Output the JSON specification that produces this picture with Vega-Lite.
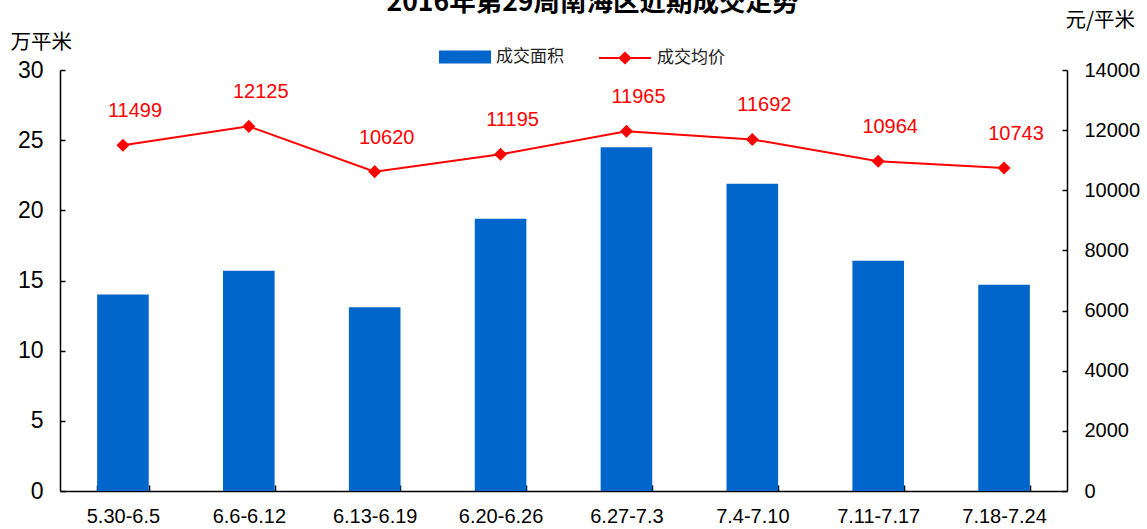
{
  "$schema": "https://vega.github.io/schema/vega-lite/v6.json",
  "width": 1007,
  "height": 421,
  "autosize": {"type": "none"},
  "padding": {"left": 60, "top": 70, "right": 80, "bottom": 38},
  "background": "white",
  "title": {
    "text": "2016年第29周南海区近期成交走势",
    "font": "Noto Sans CJK SC",
    "fontSize": 26.5,
    "fontWeight": "bold",
    "color": "black",
    "anchor": "middle",
    "frame": "group",
    "offset": -6,
    "dx": 29
  },
  "config": {
    "view": {"stroke": null},
    "axis": {
      "domainColor": "black",
      "domainWidth": 1.5,
      "tickColor": "black",
      "tickWidth": 1.5,
      "tickSize": -5,
      "grid": false,
      "labelColor": "black",
      "titleColor": "black"
    }
  },
  "data": {
    "values": [
      {"week": "5.30-6.5", "area": 14.0, "price": 11499},
      {"week": "6.6-6.12", "area": 15.7, "price": 12125},
      {"week": "6.13-6.19", "area": 13.1, "price": 10620},
      {"week": "6.20-6.26", "area": 19.4, "price": 11195},
      {"week": "6.27-7.3", "area": 24.5, "price": 11965},
      {"week": "7.4-7.10", "area": 21.9, "price": 11692},
      {"week": "7.11-7.17", "area": 16.4, "price": 10964},
      {"week": "7.18-7.24", "area": 14.7, "price": 10743}
    ]
  },
  "encoding": {
    "x": {
      "field": "week",
      "type": "nominal",
      "sort": null,
      "scale": {"paddingInner": 0.59, "paddingOuter": 0.295},
      "axis": {
        "title": null,
        "labelAngle": 0,
        "labelFont": "Liberation Sans",
        "labelFontSize": 20,
        "labelPadding": 21,
        "tickBand": "extent",
        "tickSize": -6
      }
    }
  },
  "layer": [
    {
      "mark": {"type": "bar"},
      "encoding": {
        "y": {
          "field": "area",
          "type": "quantitative",
          "scale": {"domain": [0, 30]},
          "axis": {
            "values": [0, 5, 10, 15, 20, 25, 30],
            "title": "万平米",
            "titleAngle": 0,
            "titleX": -50,
            "titleY": -28,
            "titleAlign": "left",
            "titleBaseline": "middle",
            "titleFont": "Noto Sans CJK SC",
            "titleFontSize": 20.5,
            "titleFontWeight": "normal",
            "labelFont": "Liberation Sans",
            "labelFontSize": 23,
            "labelPadding": 22
          }
        },
        "fill": {
          "datum": "成交面积",
          "type": "nominal",
          "scale": {"range": ["#0066CC"]},
          "legend": {
            "orient": "none",
            "legendX": 379,
            "legendY": -39,
            "title": null,
            "padding": 0,
            "symbolType": "M-1,-0.25H1V0.25H-1Z",
            "symbolSize": 2704,
            "symbolStrokeWidth": 0,
            "labelFont": "Noto Sans CJK SC",
            "labelFontSize": 17,
            "labelColor": "#222222",
            "labelOffset": 5
          }
        }
      }
    },
    {
      "encoding": {
        "y": {
          "field": "price",
          "type": "quantitative",
          "scale": {"domain": [0, 14000]},
          "axis": {
            "orient": "right",
            "values": [0, 2000, 4000, 6000, 8000, 10000, 12000, 14000],
            "format": "d",
            "title": "元/平米",
            "titleAngle": 0,
            "titleX": -2,
            "titleY": -50,
            "titleAlign": "left",
            "titleBaseline": "middle",
            "titleFont": "Noto Sans CJK SC",
            "titleFontSize": 20.5,
            "titleFontWeight": "normal",
            "labelFont": "Liberation Sans",
            "labelFontSize": 20,
            "labelPadding": 22
          }
        }
      },
      "layer": [
        {
          "mark": {"type": "line", "strokeWidth": 2},
          "encoding": {
            "stroke": {
              "datum": "成交均价",
              "type": "nominal",
              "scale": {"range": ["#FF0000"]},
              "legend": {
                "orient": "none",
                "legendX": 538,
                "legendY": -39,
                "title": null,
                "padding": 0,
                "symbolType": "M-1,0H1M-0.2,0L0,-0.2L0.2,0L0,0.2Z",
                "symbolSize": 2704,
                "symbolStrokeWidth": 2,
                "symbolFillColor": "#FF0000",
                "symbolStrokeColor": "#FF0000",
                "labelFont": "Noto Sans CJK SC",
                "labelFontSize": 17,
                "labelColor": "#222222",
                "labelOffset": 5
              }
            }
          }
        },
        {
          "mark": {"type": "point", "shape": "diamond", "filled": true, "size": 170, "color": "#FF0000", "opacity": 1},
          "encoding": {}
        },
        {
          "mark": {"type": "text", "font": "Liberation Sans", "fontSize": 20, "color": "#FF0000", "dx": 12, "dy": -34, "baseline": "middle"},
          "encoding": {"text": {"field": "price", "type": "quantitative", "format": "d"}}
        }
      ]
    }
  ],
  "resolve": {"scale": {"y": "independent"}}
}
